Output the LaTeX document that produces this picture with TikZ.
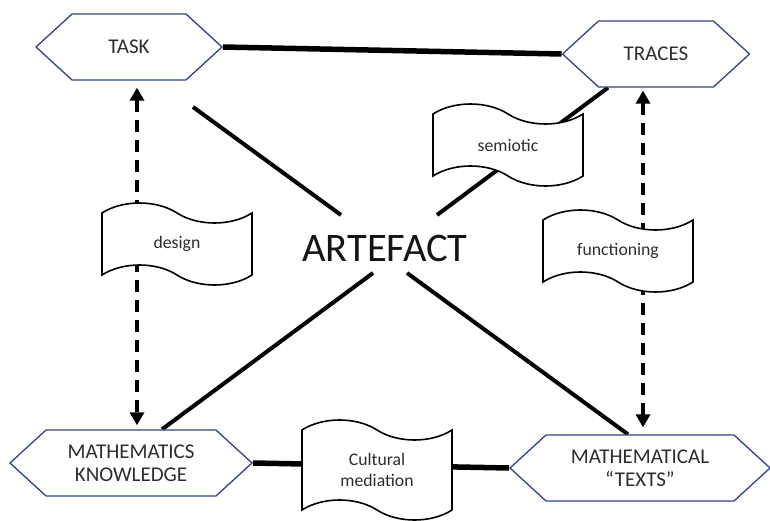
\documentclass[tikz,border=0pt]{standalone}
\usepackage{fontspec}
\setmainfont{Carlito}
\usetikzlibrary{arrows.meta,shapes.symbols,backgrounds}
\definecolor{hexframe}{RGB}{47,68,135}
\definecolor{txtgray}{RGB}{45,45,45}
\begin{document}
\begin{tikzpicture}[
  x=1pt, y=-1pt,
  hexa/.style={shape=signal, signal to=west and east, signal pointer angle=85,
               draw=hexframe, line width=1.3pt, fill=white, align=center,
               text=txtgray, font=\fontsize{21}{23}\selectfont,
               inner sep=0pt, minimum height=66pt},
  flag/.style={shape=tape, draw=black, line width=1.6pt, fill=white, align=center,
               text=txtgray, font=\fontsize{17.7}{21}\selectfont,
               inner sep=0pt, minimum width=150pt, tape bend height=20pt,
               tape bend top=out and in, tape bend bottom=out and in},
  spoke/.style={line width=4pt},
  bar/.style={line width=5.5pt},
  dasharr/.style={line width=4.5pt, dash pattern=on 12pt off 8pt,
                  {Triangle[length=13pt,width=14pt]}-{Triangle[length=13pt,width=14pt]}}]
\useasboundingbox (0,0) rectangle (770,521);
\node[hexa, minimum width=186pt] (task) at (129,47) {TASK};
\node[hexa, minimum width=187pt] (traces) at (656,54) {TRACES};
\node[hexa, minimum width=242pt] (mk) at (131,463) {MATHEMATICS\\KNOWLEDGE};
\node[hexa, minimum width=260pt] (mt) at (640,468) {MATHEMATICAL\\``TEXTS''};
\node[font=\fontsize{40.5}{44}\selectfont, text=black!92] (artefact) at (385,248) {ARTEFACT};
\node[flag, minimum height=82pt] (design) at (177,244) {design};
\node[flag, minimum height=82pt] (semiotic) at (508,145) {semiotic};
\node[flag, minimum height=82pt] (functioning) at (618,251) {functioning};
\node[flag, minimum height=100pt] (cultural) at (377,470) {Cultural\\mediation};
\coordinate (ulend) at (193,107);
\coordinate (ul) at (341,215);
\coordinate (ur) at (437,215);
\coordinate (ll) at (373,273);
\coordinate (lr) at (407,273);
\begin{scope}[on background layer]
\draw[bar] (task.east) -- (traces.west);
\draw[bar] (mk.east) -- (mt.west);
\draw[spoke] (ulend) -- (ul);
\draw[spoke] (ur) -- ([xshift=-48pt]traces.south);
\draw[spoke] (ll) -- ([xshift=31pt]mk.north);
\draw[spoke] (lr) -- ([xshift=-12pt]mt.north);
\draw[dasharr] ([xshift=8pt,yshift=-7pt]task.south) -- ([xshift=6pt,yshift=4pt]mk.north);
\draw[dasharr] ([xshift=-13pt,yshift=-3pt]traces.south) -- ([xshift=3pt,yshift=7pt]mt.north);
\end{scope}
\end{tikzpicture}
\end{document}
